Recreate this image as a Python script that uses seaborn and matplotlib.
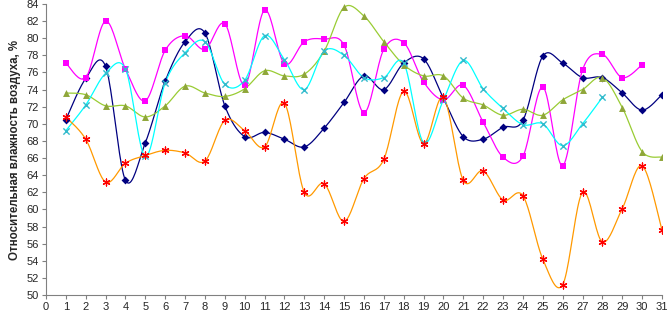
import numpy as np
import pandas as pd
import matplotlib
matplotlib.use("Agg")
import matplotlib.pyplot as plt
import seaborn as sns

days = list(range(1, 32))

navy = [70.5, 75.3, 76.7, 63.4, 67.8, 75.0, 79.6, 80.6, 72.1, 68.5, 69.0, 68.2, 67.3, 69.5, 72.5,
        75.6, 74.0, 77.1, 77.6, 73.0, 68.5, 68.2, 69.6, 70.4, 77.9, 77.1, 75.4, 75.4, 73.6, 71.6, 73.4]
magenta = [77.1, 75.4, 82.0, 76.4, 72.7, 78.6, 80.3, 78.7, 81.7, 74.5, 83.3, 77.0, 79.6, 79.9, 79.2,
           71.3, 78.7, 79.5, 74.9, 72.8, 74.5, 70.2, 66.1, 66.2, 74.3, 65.1, 76.3, 78.1, 75.4, 76.9, None]
green = [73.6, 73.4, 72.1, 72.1, 70.8, 72.1, 74.4, 73.6, 73.2, 74.1, 76.2, 75.6, 75.8, 78.5, 83.6,
         82.6, 79.6, 76.9, 75.6, 75.6, 73.0, 72.2, 71.0, 71.7, 71.0, 72.8, 74.0, 75.4, 71.9, 66.75, 66.1]
cyan = [69.2, 72.2, 75.9, 76.4, 66.2, 74.8, 78.3, 79.6, 74.6, 75.1, 80.3, 77.5, 74.0, 78.5, 78.0,
        75.4, 75.4, 77.1, 67.8, 72.8, 77.4, 74.1, 71.8, 69.9, 70.0, 67.45, 70.0, 73.1, None, None, None]
orange = [70.8, 68.2, 63.2, 65.4, 66.3, 66.9, 66.6, 65.65, 70.4, 69.2, 67.3, 72.4, 62.0, 63.0, 58.6,
          63.6, 65.85, 73.8, 67.7, 73.1, 63.4, 64.5, 61.1, 61.6, 54.2, 51.2, 62.0, 56.2, 60.1, 65.1, 57.6]

ylabel = "Относительная влажность воздуха, %"

series = [
    ("s1", navy, "#000080", "#000080", "D", 4.0, None),
    ("s2", magenta, "#FF00FF", "#FF00FF", "s", 4.5, None),
    ("s3", green, "#99CC33", "#8FA63A", "^", 5.0, None),
    ("s4", cyan, "#00FFFF", "#33BBCC", "x", 4.5, 1.0),
    ("s5", orange, "#FF9900", "#FF0000", (6, 2, 0), 5.0, 0.9),
]


def smooth(xs, ys, n=20):
    # Bezier smoothing (Catmull-Rom style, as spreadsheet smoothed lines)
    xs = np.asarray(xs, float)
    ys = np.asarray(ys, float)
    P = np.column_stack([xs, ys])
    out = []
    m = len(P)
    for i in range(m - 1):
        p0 = P[i - 1] if i > 0 else P[i]
        p1 = P[i]
        p2 = P[i + 1]
        p3 = P[i + 2] if i + 2 < m else P[i + 1]
        c1 = p1 + (p2 - p0) / 6.0
        c2 = p2 - (p3 - p1) / 6.0
        t = np.linspace(0, 1, n, endpoint=(i == m - 2))[:, None]
        b = ((1 - t) ** 3) * p1 + 3 * ((1 - t) ** 2) * t * c1 + 3 * (1 - t) * t ** 2 * c2 + t ** 3 * p2
        out.append(b)
    return np.vstack(out)


sns.set_theme(style="white")
plt.rcParams['font.family'] = ['Liberation Sans', 'DejaVu Sans']

fig = plt.figure(figsize=(6.7, 3.14), dpi=100)
ax = fig.add_axes([46 / 670, 1 - 295 / 314, 616 / 670, 291 / 314])

for name, vals, lc, mc, mk, ms, mew in series:
    pts = [(d, v) for d, v in zip(days, vals) if v is not None]
    xs = [p[0] for p in pts]
    ys = [p[1] for p in pts]
    curve = smooth(xs, ys)
    cdf = pd.DataFrame({"x": curve[:, 0], "y": curve[:, 1]})
    sns.lineplot(data=cdf, x="x", y="y", ax=ax, color=lc, linewidth=0.9, sort=False,
                 estimator=None, legend=False)
    pdf = pd.DataFrame({"x": xs, "y": ys})
    kw = dict(s=ms ** 2, marker=mk, color=mc, zorder=3, legend=False)
    if mew is not None:
        kw.update(linewidth=mew, edgecolor=mc)
    else:
        kw.update(linewidth=0)
    sns.scatterplot(data=pdf, x="x", y="y", ax=ax, **kw)

ax.set_xlim(0, 31)
ax.set_ylim(50, 84)
ax.set_xticks(range(0, 32))
ax.set_yticks(range(50, 85, 2))
ax.set_xlabel("")
ax.set_ylabel(ylabel, fontsize=8.3, fontweight="bold", labelpad=4)
for s in ["top", "right"]:
    ax.spines[s].set_visible(False)
for s in ["left", "bottom"]:
    ax.spines[s].set_color("#808080")
    ax.spines[s].set_linewidth(0.8)
ax.tick_params(axis="both", which="major", direction="out", length=3, width=0.8,
               color="#808080", labelsize=8, pad=2, bottom=True, left=True)
ax.grid(False)

fig.savefig("out.png", dpi=100)
